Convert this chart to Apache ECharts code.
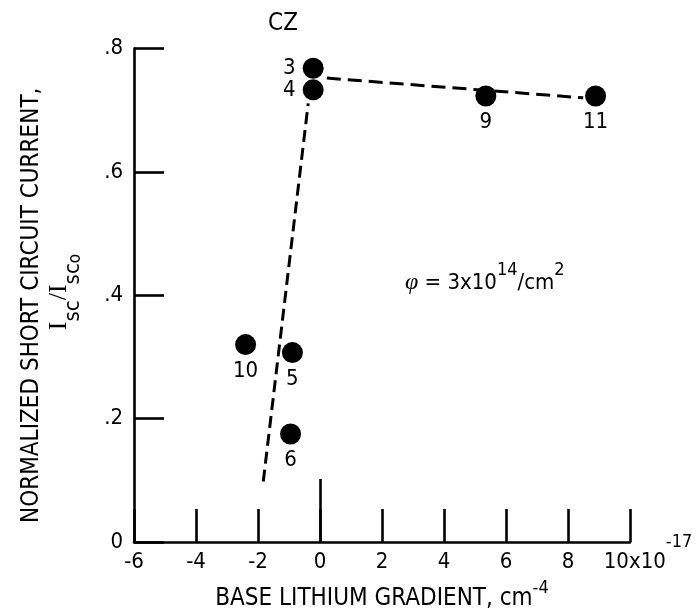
<!DOCTYPE html>
<html><head><meta charset="utf-8">
<script src="https://cdn.jsdelivr.net/npm/echarts@6/dist/echarts.min.js"></script>
<style>html,body{margin:0;padding:0;background:#fff}#c{width:699px;height:614px}</style>
</head><body><div id="c"></div>
<script>
// ---- data ----
const xTickLabels = ['-6', '-4', '-2', '0', '2', '4', '6', '8', '10x10'];
const xTickExponent = '-17';
const yTickLabels = ['0', '.2', '.4', '.6', '.8'];
const sampleIds = ['3', '4', '9', '11', '10', '5', '6'];
const sampleX = [-0.22, -0.22, 5.35, 8.89, -2.4, -0.89, -0.95];
const sampleY = [0.768, 0.733, 0.723, 0.723, 0.320, 0.307, 0.175];
const steepFitX = [-1.83, -0.38];
const steepFitY = [0.098, 0.711];
const flatFitX = [0.22, 8.49];
const flatFitY = [0.752, 0.720];
const xTitle = 'BASE LITHIUM GRADIENT, cm';
const xTitleExp = '-4';
const yTitle = 'NORMALIZED SHORT CIRCUIT CURRENT,';
const groupLabel = 'CZ';

// ---- rendering ----
const FONT = '"Liberation Sans Narrow", "DejaVu Sans Condensed", "Liberation Sans", sans-serif';
const SERIF = '"Liberation Serif", "DejaVu Serif", serif';
const leftLabeled = new Set(['3', '4']);
const chart = echarts.init(document.getElementById('c'), null, {renderer: 'canvas'});

const points = sampleX.map((x, i) => ({
  value: [x, sampleY[i]],
  label: {
    position: leftLabeled.has(sampleIds[i]) ? 'left' : 'bottom',
    distance: leftLabeled.has(sampleIds[i]) ? 7 : 5
  }
}));

chart.setOption({
  animation: false,
  backgroundColor: '#fff',
  grid: {left: 134, right: 69, top: 48.5, bottom: 72, containLabel: false, outerBoundsMode: 'none'},
  xAxis: [{
    type: 'value', min: -6, max: 10, interval: 2,
    axisLine: {show: true, onZero: false, lineStyle: {color: '#000', width: 2.6}},
    axisTick: {show: true, inside: true, length: 33, lineStyle: {color: '#000', width: 2.6}},
    splitLine: {show: false},
    axisLabel: {
      margin: 9, color: '#000', fontFamily: FONT, fontSize: 22,
      formatter: function (v) {
        const i = Math.round((v + 6) / 2);
        if (i === xTickLabels.length - 1) return '{sp| }{n|' + xTickLabels[i] + '}{s|' + xTickExponent + '}';
        return xTickLabels[i];
      },
      rich: {
        sp: {width: 36, fontSize: 22, fontFamily: FONT},
        n: {fontSize: 22, fontFamily: FONT, color: '#000'},
        s: {fontSize: 18, fontFamily: FONT, color: '#000', padding: [0, 0, 40, 0], lineHeight: 18}
      }
    },
    name: xTitle + '{s|' + xTitleExp + '}',
    nameLocation: 'middle', nameGap: 43, nameMoveOverlap: false,
    nameTextStyle: {
      color: '#000', fontFamily: FONT, fontSize: 24, lineHeight: 28,
      rich: {s: {fontSize: 18, fontFamily: FONT, color: '#000', lineHeight: 18, padding: [0, 0, 22, 0]}}
    }
  }, {
    type: 'value', min: -6, max: 10, position: 'bottom',
    axisLine: {show: false, onZero: false},
    axisTick: {show: true, inside: true, length: 63, customValues: [0], lineStyle: {color: '#000', width: 2.6}},
    axisLabel: {show: false},
    splitLine: {show: false}
  }],
  yAxis: {
    type: 'value', min: 0, max: 0.8, interval: 0.2,
    axisLine: {show: true, onZero: false, lineStyle: {color: '#000', width: 2.6}},
    axisTick: {show: true, inside: true, length: 30, lineStyle: {color: '#000', width: 2.6}},
    splitLine: {show: false},
    axisLabel: {
      margin: 11, color: '#000', fontFamily: FONT, fontSize: 22,
      formatter: function (v) { return yTickLabels[Math.round(v / 0.2)]; }
    },
    name: yTitle, nameLocation: 'middle', nameRotate: 90, nameGap: 90, nameMoveOverlap: false,
    nameTextStyle: {color: '#000', fontFamily: FONT, fontSize: 24, padding: [0, 20, 0, 0]}
  },
  graphic: [
    {
      type: 'text', x: 59, y: 292, rotation: Math.PI / 2,
      style: {
        text: '{I|I}{s|sc}{I|/I}{s|sc}{o|o}',
        textAlign: 'center', align: 'center', textVerticalAlign: 'middle', verticalAlign: 'middle',
        fill: '#000',
        rich: {
          I: {fontFamily: SERIF, fontSize: 26, lineHeight: 26, fill: '#000', color: '#000'},
          s: {fontFamily: FONT, fontSize: 22, lineHeight: 22, padding: [28, 0, 0, 0], fill: '#000', color: '#000'},
          o: {fontFamily: FONT, fontSize: 17, lineHeight: 17, padding: [34, 0, 0, 0], fill: '#000', color: '#000'}
        }
      }
    },
    {
      type: 'text', x: 283, y: 24,
      style: {text: groupLabel, font: '24px ' + FONT, fill: '#000',
        textAlign: 'center', align: 'center', textVerticalAlign: 'middle', verticalAlign: 'middle'}
    },
    {
      type: 'text', x: 405, y: 283,
      style: {
        text: '{p|φ} = 3x10{s|14}/cm{s|2}',
        fontFamily: FONT, fontSize: 22, fill: '#000',
        textAlign: 'left', align: 'left', textVerticalAlign: 'middle', verticalAlign: 'middle',
        rich: {
          p: {fontFamily: SERIF, fontStyle: 'italic', fontSize: 24, fill: '#000', color: '#000'},
          s: {fontFamily: FONT, fontSize: 18, lineHeight: 18, padding: [0, 0, 26, 0], fill: '#000', color: '#000'}
        }
      }
    }
  ],
  series: [
    {
      type: 'line', xAxisIndex: 0, data: steepFitX.map((x, i) => [x, steepFitY[i]]),
      symbol: 'none', silent: true,
      lineStyle: {color: '#000', width: 3, type: [12, 6]}
    },
    {
      type: 'line', xAxisIndex: 0, data: flatFitX.map((x, i) => [x, flatFitY[i]]),
      symbol: 'none', silent: true,
      lineStyle: {color: '#000', width: 3, type: [14, 7]}
    },
    {
      type: 'scatter', xAxisIndex: 0, data: points, symbol: 'circle', symbolSize: 21,
      itemStyle: {color: '#000', opacity: 1},
      label: {
        show: true, color: '#000', fontFamily: FONT, fontSize: 22,
        formatter: function (p) { return sampleIds[p.dataIndex]; }
      }
    }
  ]
});
</script>
</body></html>
